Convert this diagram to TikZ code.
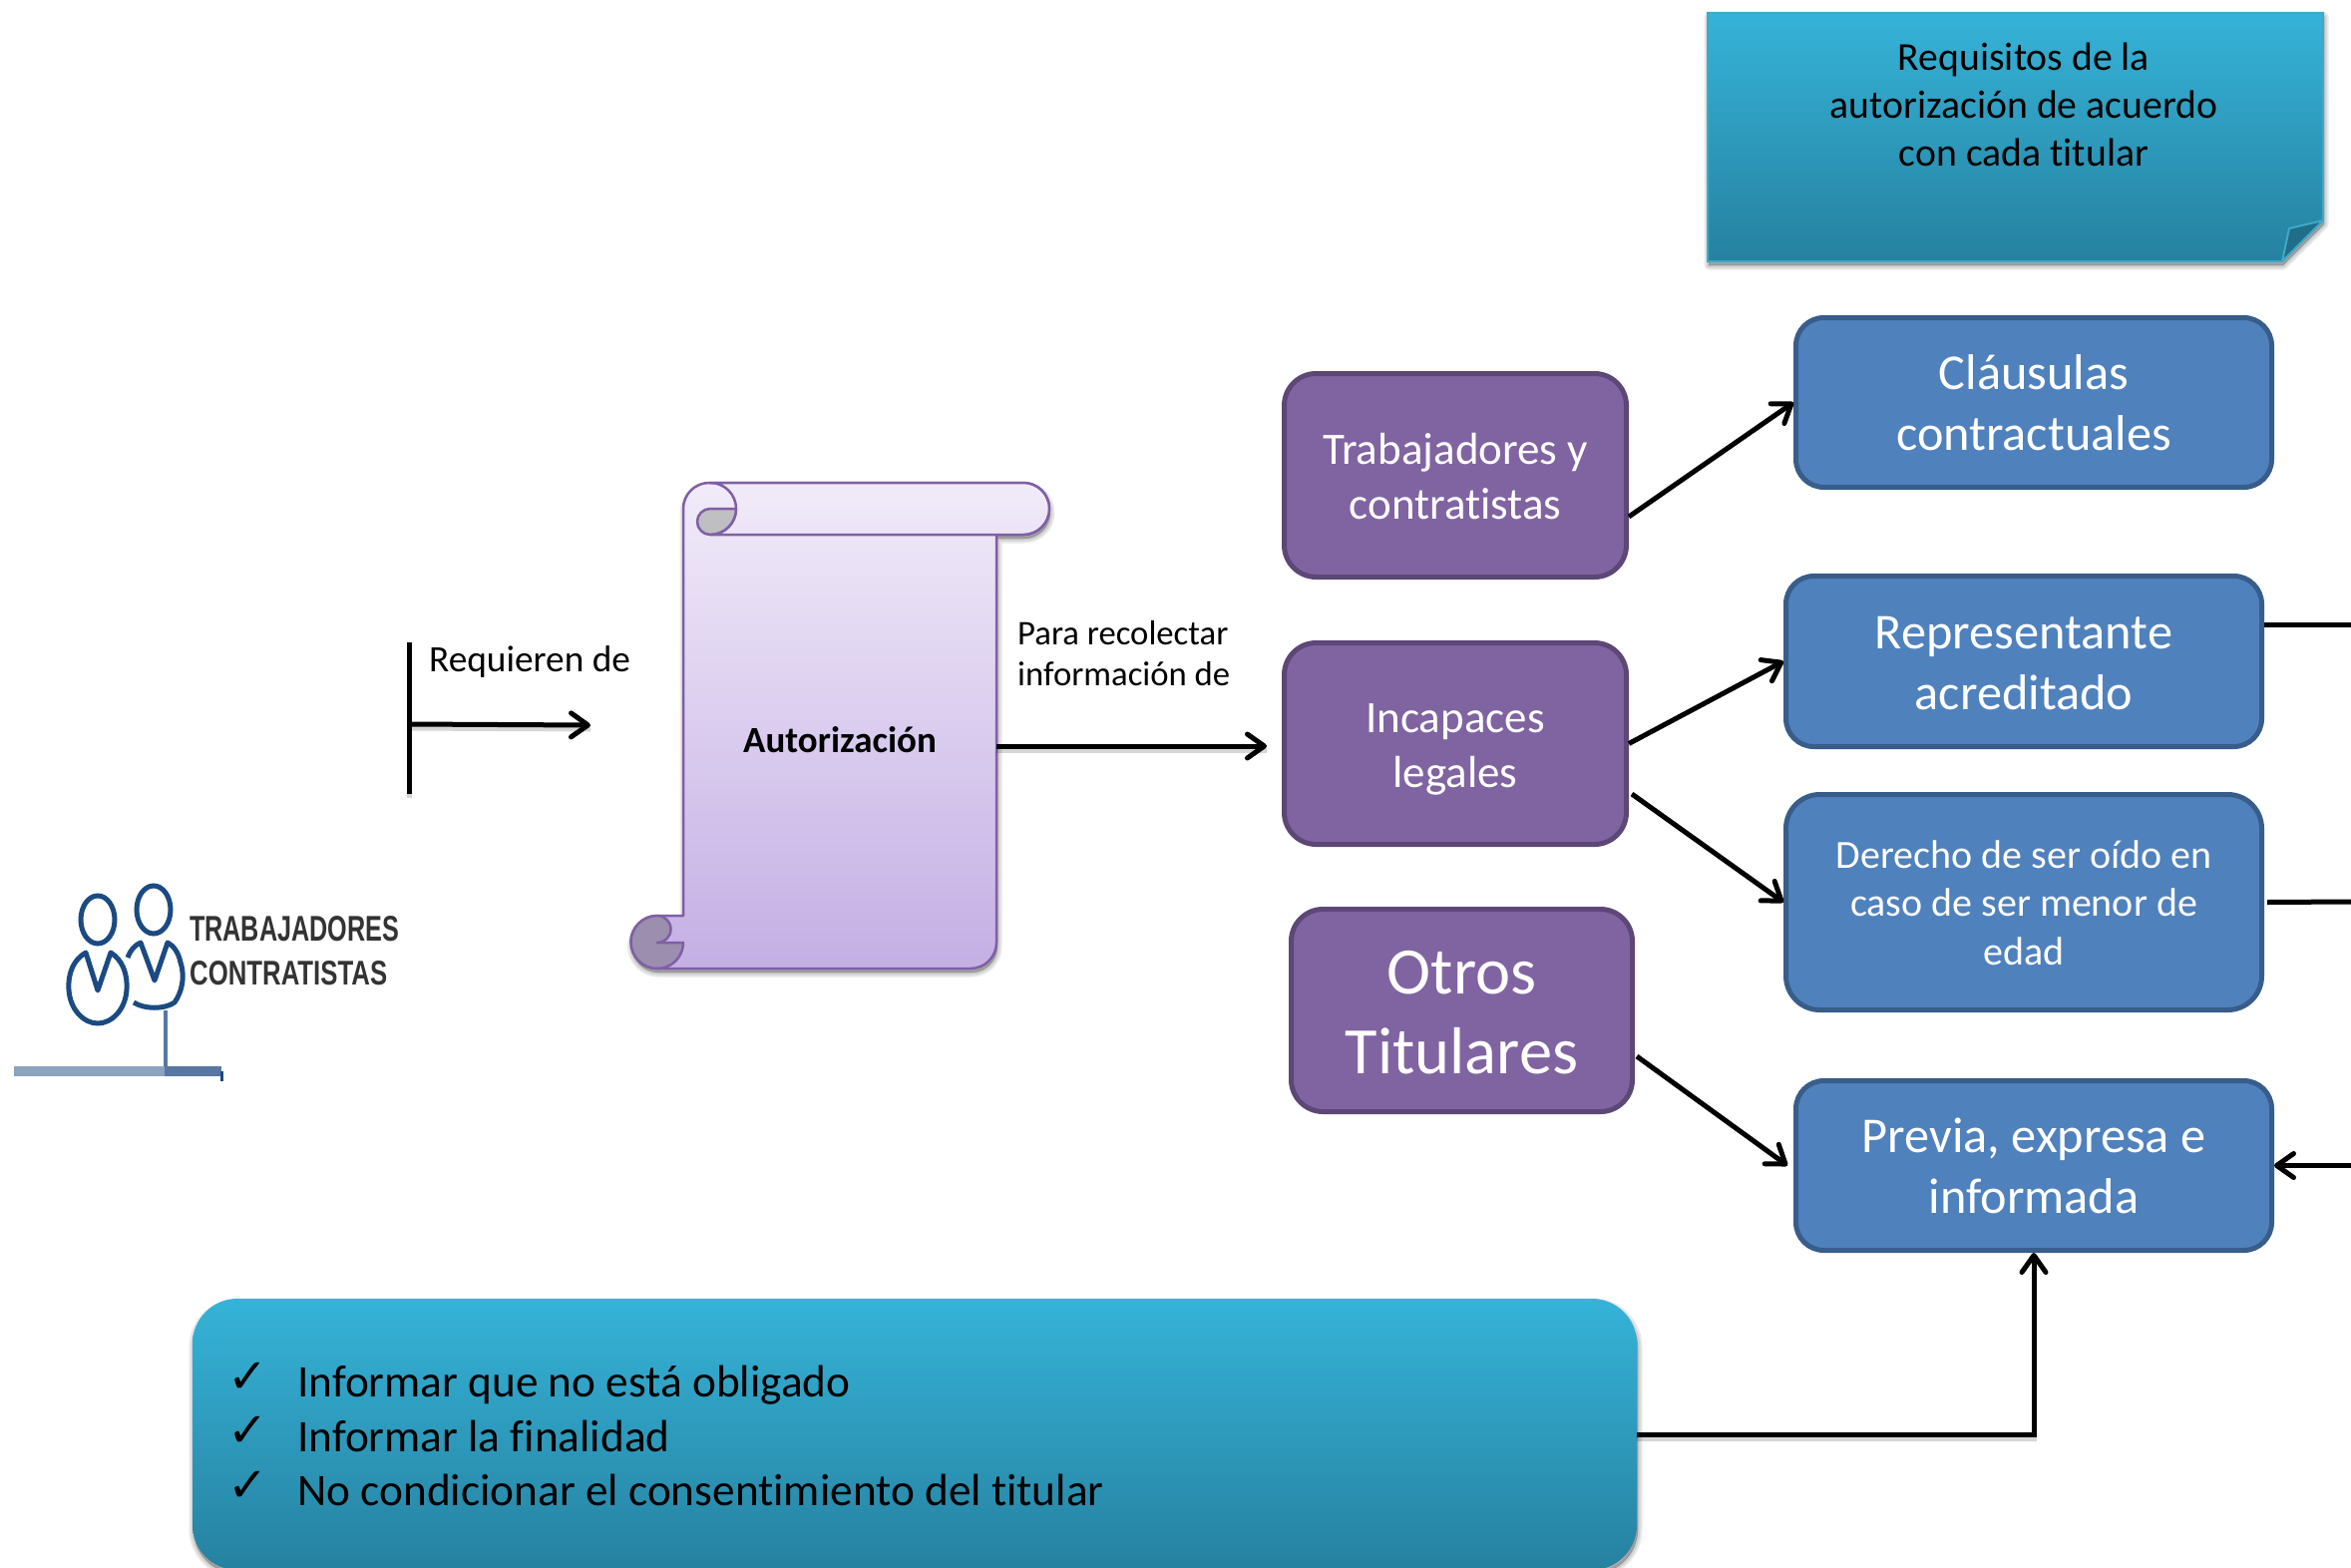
\documentclass[tikz,border=0pt]{standalone}
\usepackage{fontspec}
\usepackage{graphicx}
\setmainfont[Ligatures=NoCommon]{Carlito}
\newfontfamily\djv{DejaVu Sans}
\newfontfamily\libs{Liberation Sans}
\usetikzlibrary{arrows.meta}
\definecolor{bluefill}{HTML}{4F81BD}
\definecolor{blueline}{HTML}{385D8A}
\definecolor{purpfill}{HTML}{8064A2}
\definecolor{purpline}{HTML}{5C4776}
\definecolor{tealtop}{HTML}{35B3D8}
\definecolor{tealbot}{HTML}{2681A0}
\definecolor{tealline}{HTML}{3FA9C9}
\definecolor{scrtop}{HTML}{F1EBF9}
\definecolor{scrbot}{HTML}{C4AFE4}
\definecolor{scrline}{HTML}{7F5FA5}
\definecolor{iconblue}{HTML}{1B4A82}
\definecolor{iconmid}{HTML}{5878A3}
\definecolor{iconlite}{HTML}{8CA3C0}
\newcommand{\softlayers}[1]{%
  \path[softlayer,line width=9pt] #1;
  \path[softlayer,line width=5pt] #1;
  \path[softlayer,line width=1pt] #1;
}
\tikzset{
  softlayer/.style={fill=black,draw=black,opacity=.09,line join=round,shift={(1,4)}},
  bluebox/.style={draw=blueline,fill=bluefill,line width=5pt,rounded corners=28pt,inner sep=0pt},
  purpbox/.style={draw=purpline,fill=purpfill,line width=5pt,rounded corners=32pt,inner sep=0pt},
  whitetxt/.style={text=white,align=center,anchor=base,inner sep=0pt},
  blacktxt/.style={text=black,align=center,anchor=base,inner sep=0pt},
  conn/.style={draw=black,line width=5pt,-{Straight Barb[length=17pt,width=24pt,round]}},
  plainconn/.style={draw=black,line width=5pt},
  shadowline/.style={draw=black,line width=5pt,opacity=.16,transform canvas={yshift=-4pt}},
  scrollpart/.style={draw=scrline,line width=2.5pt,line join=round},
  iconline/.style={draw=iconblue,line width=5pt},
}
\begin{document}
\begin{tikzpicture}[x=1pt,y=-1pt]
\useasboundingbox (0,0) rectangle (2357,1571);

% --- top note
\softlayers{(1712,13) -- (2329,13) -- (2329,221) -- (2288,262) -- (1712,262) -- cycle}
\path[top color=tealtop,bottom color=tealbot,draw=tealline,line width=2pt]
  (1712,13) -- (2329,13) -- (2329,221) -- (2288,262) -- (1712,262) -- cycle;
\path[fill=tealbot!85!black,draw=tealline,line width=2pt,line join=round]
  (2329,221) -- (2295,229) -- (2288,262) -- cycle;
\node[blacktxt,font=\fontsize{39.7}{48}\selectfont] (note) at (2029,166)
  {Requisitos de la\\autorización de acuerdo\\con cada titular};

% --- coordinates of free ends
\coordinate (barT) at (410,644);
\coordinate (barB) at (410,796);
\coordinate (barM) at (410,726);
\coordinate (barE) at (592,727);
\coordinate (scrE) at (999,748);
\coordinate (endRe) at (2357,626);
\coordinate (endDe) at (2357,904);
\coordinate (endPr) at (2357,1168.5);

% --- purple boxes
\node[purpbox,minimum width=343pt,minimum height=204pt] (bTr) at (1459,476.5) {};
\node[purpbox,minimum width=343pt,minimum height=202pt] (bIn) at (1459,745.5) {};
\node[purpbox,minimum width=342pt,minimum height=203pt] (bOt) at (1465.5,1013) {};
% --- blue boxes
\node[bluebox,minimum width=477pt,minimum height=170pt] (bCl) at (2039,403.5) {};
\node[bluebox,minimum width=477pt,minimum height=171pt] (bRe) at (2029,663) {};
\node[bluebox,minimum width=477pt,minimum height=216pt,rounded corners=34pt] (bDe) at (2029,904.5) {};
\node[bluebox,minimum width=477pt,minimum height=170pt] (bPr) at (2039,1168.5) {};
% --- bottom teal box
\softlayers{[rounded corners=45pt] (193,1302) rectangle (1641,1574)}
\node[top color=tealtop,bottom color=tealbot,minimum width=1448pt,minimum height=272pt,
  rounded corners=45pt,inner sep=0pt] (bBt) at (917,1438) {};

% --- box texts
\node[whitetxt,font=\fontsize{45}{55}\selectfont] (tTr) at (1459,520.5) {Trabajadores y\\contratistas};
\node[whitetxt,font=\fontsize{45}{55}\selectfont] (tIn) at (1459,789) {Incapaces\\legales};
\node[whitetxt,font=\fontsize{66.5}{80}\selectfont] (tOt) at (1465.5,1076) {Otros\\Titulares};
\node[whitetxt,font=\fontsize{50.3}{60.5}\selectfont] (tCl) at (2039,451) {Cláusulas\\contractuales};
\node[whitetxt,font=\fontsize{50.3}{60.5}\selectfont] (tRe) at (2029,711) {Representante\\acreditado};
\node[whitetxt,font=\fontsize{40}{48.5}\selectfont] (tDe) at (2029,967) {Derecho de ser oído en\\caso de ser menor de\\edad};
\node[whitetxt,font=\fontsize{50.3}{60.5}\selectfont] (tPr) at (2039,1216) {Previa, expresa e\\informada};

% --- list
\node[blacktxt,align=left,anchor=base west,font=\fontsize{45.3}{54.5}\selectfont] (tLs) at (298,1509.5)
  {Informar que no está obligado\\Informar la finalidad\\No condicionar el consentimiento del titular};
\node[blacktxt,align=left,anchor=base west,font=\djv\fontsize{48}{54.5}\selectfont] (tCk) at (228,1505)
  {✓\\✓\\✓};

% --- scroll
\softlayers{(685,510) arc[start angle=180,end angle=270,radius=26] -- (1026,484) arc[start angle=-90,end angle=90,radius=26] -- (999,536) -- (999,945) arc[start angle=0,end angle=90,radius=26] -- (659,971) arc[start angle=90,end angle=270,radius=26.5] -- (685,918) -- cycle}
\path[top color=scrtop,bottom color=scrbot,scrollpart]
  (685,510) arc[start angle=180,end angle=270,radius=26] -- (1026,484)
  arc[start angle=-90,end angle=90,radius=26] -- (999,536) -- (999,945)
  arc[start angle=0,end angle=90,radius=26] -- (659,971)
  arc[start angle=90,end angle=270,radius=26.5] -- (685,918) -- cycle;
\path[top color=scrtop,bottom color=scrtop!88!scrbot,scrollpart]
  (711,484) -- (1026,484) arc[start angle=-90,end angle=90,radius=26] -- (712,536)
  arc[start angle=90,end angle=-90,radius=26];
\path[fill=black!28,fill opacity=.85,scrollpart]
  (738,510) -- (712,510) arc[start angle=-90,end angle=-270,radius=13]
  arc[start angle=90,end angle=0,radius=26];
\path[fill=scrbot!70!black!85,scrollpart]
  (659,918) arc[start angle=-90,end angle=90,radius=13.5] -- (685,945)
  arc[start angle=0,end angle=90,radius=26]
  arc[start angle=90,end angle=270,radius=26.5] -- cycle;
\node[blacktxt,font=\fontsize{37}{45}\selectfont\bfseries] (tAu) at (842,754) {Autorización};

% --- labels
\node[blacktxt,align=left,anchor=base west,font=\fontsize{34.7}{41}\selectfont] (tPa) at (1020,687.5) {Para recolectar\\información de};
\node[blacktxt,align=left,anchor=base west,font=\fontsize{37.3}{44}\selectfont] (tRq) at (430,673) {Requieren de};

% --- connector shadows
\draw[shadowline] (barT) -- (barB);
\draw[shadowline] (barM) -- (barE);
\draw[shadowline] (scrE) -- ([xshift=-15pt,yshift=-2.5pt]bIn.west);
\draw[shadowline] (bBt.east) -| (bPr.south);
% --- connectors
\draw[plainconn] (barT) -- (barB);
\draw[conn] (barM) -- (barE);
\draw[conn] (scrE) -- ([xshift=-15pt,yshift=-2.5pt]bIn.west);
\draw[conn] ([yshift=-41.5pt]bTr.east) -- (bCl.west);
\draw[conn] (bIn.east) -- (bRe.west);
\draw[conn] ([xshift=3pt,yshift=-50.5pt]bIn.east) -- (bDe.west);
\draw[conn] ([xshift=2pt,yshift=-46pt]bOt.east) -- ([xshift=-6pt]bPr.west);
\draw[plainconn] ([yshift=37pt]bRe.east) -- (endRe);
\draw[plainconn] ([xshift=3pt]bDe.east) -- (endDe);
\draw[conn] (endPr) -- (bPr.east);
\draw[conn,line join=miter] (bBt.east) -| (bPr.south);

% --- icon
\draw[iconline] (98,922) ellipse[x radius=17,y radius=24];
\draw[iconline] (154,912) ellipse[x radius=17,y radius=24];
\draw[iconline,line join=round] (86,955) -- (98,993) -- (111,955)
  .. controls (122,962) and (128,975) .. (127,992)
  .. controls (126,1012) and (112,1026) .. (98,1026)
  .. controls (84,1026) and (70,1012) .. (69,992)
  .. controls (68,975) and (74,962) .. (86,955) -- cycle;
\draw[iconline,line join=round] (134,1005)
  .. controls (145,1012) and (165,1012) .. (175,1005)
  .. controls (182,995) and (186,980) .. (181,965)
  .. controls (179,955) and (174,948) .. (168,945)
  -- (155,983) -- (141,945)
  .. controls (136,947) and (131,952) .. (128,960);
\fill[iconmid] (164,1013) rectangle (168,1070);
\fill[iconlite] (14,1069) rectangle (165,1079);
\fill[iconmid] (165,1069) rectangle (222,1079);
\fill[iconblue] (221,1074) rectangle (224,1084);
\node[anchor=north west,inner sep=0pt,text=black!80] (tTb) at (190,918)
  {\resizebox{210pt}{25pt}{\libs\bfseries TRABAJADORES}};
\node[anchor=north west,inner sep=0pt,text=black!80] (tCt) at (190,963)
  {\resizebox{198pt}{24pt}{\libs\bfseries CONTRATISTAS}};
\end{tikzpicture}
\end{document}
